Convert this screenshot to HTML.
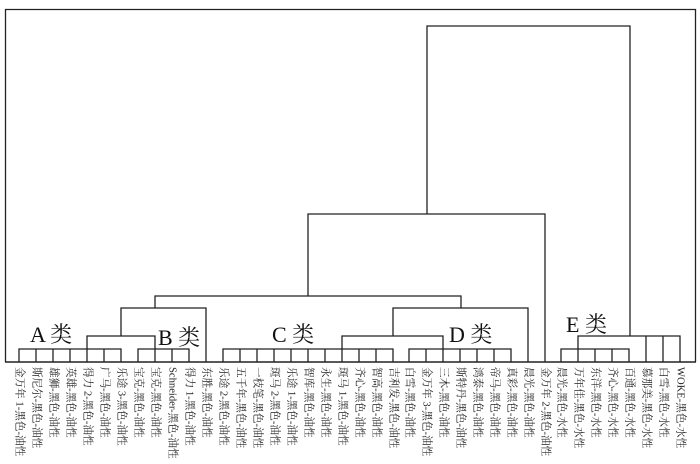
<!DOCTYPE html>
<html><head><meta charset="utf-8"><style>
html,body{margin:0;padding:0;background:#fff;}
svg{display:block;}
.l{font-family:"Liberation Serif","Noto Serif CJK SC","Noto Sans CJK SC",serif;font-size:10.6px;fill:#222;}
.c{font-family:"Liberation Serif","Noto Serif CJK SC",serif;font-size:22px;fill:#111;}
</style></head><body>
<svg width="700" height="464" viewBox="0 0 700 464" xmlns="http://www.w3.org/2000/svg">
<g stroke="#222" stroke-width="1.3" fill="none">
<path d="M5.5 362V9.5H695.5V362"/>
<line x1="5" y1="362" x2="696" y2="362" stroke-width="1.6"/>
<path d="M427 214V26H630V336"/>
<path d="M308 296V214H545V362"/>
<path d="M155 308V296H461V308"/>
<path d="M121 336V308H206V362"/>
<path d="M393 336V308H528V362"/>
<path d="M87 349V336H155V349"/>
<path d="M19 362V349H121V362M36 349V362M53 349V362M70 349V362M87 349V362M104 349V362"/>
<path d="M138 362V349H189V362M155 349V362M172 349V362"/>
<path d="M342 349V336H443V349"/>
<path d="M223 362V349H393V362M240 349V362M257 349V362M274 349V362M291 349V362M308 349V362M325 349V362M342 349V362M359 349V362M376 349V362"/>
<path d="M409 362V349H511V362M426 349V362M443 349V362M460 349V362M477 349V362M494 349V362"/>
<path d="M578 349V336H680V362M646 336V362M663 336V362"/>
<path d="M561 362V349H629V362M578 349V362M595 349V362M612 349V362"/>
</g>
<text class="c" x="30" y="342">A 类</text>
<text class="c" x="158" y="345">B 类</text>
<text class="c" x="272" y="342">C 类</text>
<text class="c" x="449" y="342">D 类</text>
<text class="c" x="566" y="332">E 类</text>
<g class="l" dominant-baseline="central">
<text transform="translate(19,367) rotate(90)">金万年 1-黑色-油性</text>
<text transform="translate(36,367) rotate(90)">斯尼尔-黑色-油性</text>
<text transform="translate(53,367) rotate(90)">雄狮-黑色-油性</text>
<text transform="translate(70,367) rotate(90)">英雄-黑色-油性</text>
<text transform="translate(87,367) rotate(90)">得力 2-黑色-油性</text>
<text transform="translate(104,367) rotate(90)">广马-黑色-油性</text>
<text transform="translate(121,367) rotate(90)">乐途 3-黑色-油性</text>
<text transform="translate(138,367) rotate(90)">宝克-黑色-油性</text>
<text transform="translate(155,367) rotate(90)">宝克-黑色-油性</text>
<text transform="translate(172,367) rotate(90)">Schneider-黑色-油性</text>
<text transform="translate(189,367) rotate(90)">得力 1-黑色-油性</text>
<text transform="translate(206,367) rotate(90)">东胜-黑色-油性</text>
<text transform="translate(223,367) rotate(90)">乐途 2-黑色-油性</text>
<text transform="translate(240,367) rotate(90)">五千年-黑色-油性</text>
<text transform="translate(257,367) rotate(90)">一枝笔-黑色-油性</text>
<text transform="translate(274,367) rotate(90)">斑马 2-黑色-油性</text>
<text transform="translate(291,367) rotate(90)">乐途 1-黑色-油性</text>
<text transform="translate(308,367) rotate(90)">智库-黑色-油性</text>
<text transform="translate(325,367) rotate(90)">永生-黑色-油性</text>
<text transform="translate(342,367) rotate(90)">斑马 1-黑色-油性</text>
<text transform="translate(359,367) rotate(90)">齐心-黑色-油性</text>
<text transform="translate(376,367) rotate(90)">智高-黑色-油性</text>
<text transform="translate(393,367) rotate(90)">吉利发-黑色-油性</text>
<text transform="translate(409,367) rotate(90)">白雪-黑色-油性</text>
<text transform="translate(426,367) rotate(90)">金万年 3-黑色-油性</text>
<text transform="translate(443,367) rotate(90)">三木-黑色-油性</text>
<text transform="translate(460,367) rotate(90)">斯特丹-黑色-油性</text>
<text transform="translate(477,367) rotate(90)">鸿泰-黑色-油性</text>
<text transform="translate(494,367) rotate(90)">帝马-黑色-油性</text>
<text transform="translate(511,367) rotate(90)">真彩-黑色-油性</text>
<text transform="translate(528,367) rotate(90)">晨光-黑色-油性</text>
<text transform="translate(545,367) rotate(90)">金万年 2-黑色-油性</text>
<text transform="translate(561,367) rotate(90)">晨光-黑色-水性</text>
<text transform="translate(578,367) rotate(90)">万年佳-黑色-水性</text>
<text transform="translate(595,367) rotate(90)">东洋-黑色-水性</text>
<text transform="translate(612,367) rotate(90)">齐心-黑色-水性</text>
<text transform="translate(629,367) rotate(90)">百通-黑色-水性</text>
<text transform="translate(646,367) rotate(90)">慕那美-黑色-水性</text>
<text transform="translate(663,367) rotate(90)">白雪-黑色-水性</text>
<text transform="translate(680,367) rotate(90)">WOKE-黑色-水性</text>
</g>
</svg>
</body></html>
